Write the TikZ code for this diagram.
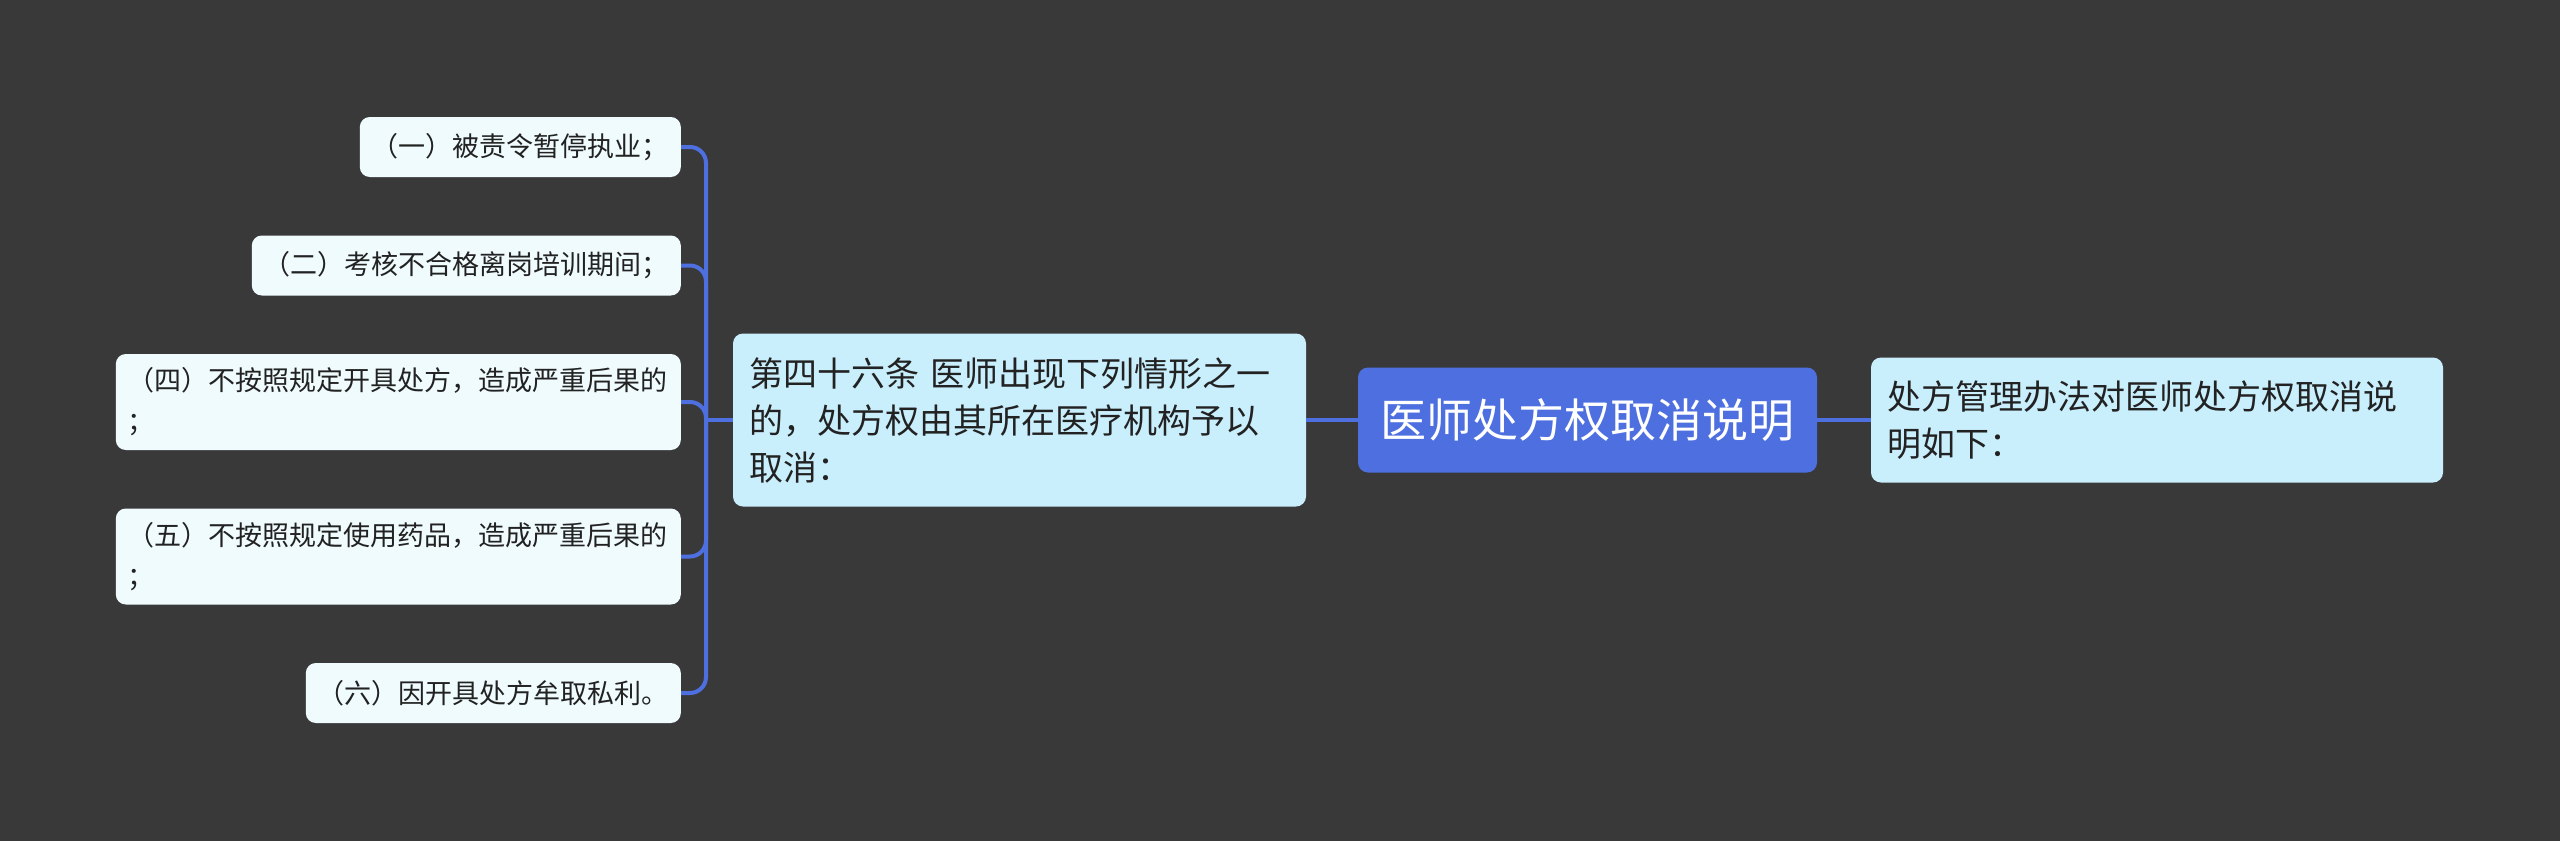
\documentclass[tikz,border=0pt]{standalone}
\usepackage{fontspec}
\newfontfamily\cjk{Noto Sans CJK SC}
\definecolor{bgc}{HTML}{3A393A}
\definecolor{rootc}{HTML}{4E6FE0}
\definecolor{linec}{HTML}{4E6FE0}
\definecolor{midc}{HTML}{C9EEFC}
\definecolor{leafc}{HTML}{EFFBFD}
\definecolor{txtc}{HTML}{222222}
\begin{document}
\begin{tikzpicture}[x=1pt,y=-1pt,
  leaf/.style={fill=leafc, rounded corners=10pt, inner xsep=12pt, inner ysep=0pt, minimum height=60pt,
    font=\cjk\fontsize{27}{41}\selectfont, text=txtc, anchor=east},
  leaftwo/.style={leaf, align=left, text width=541pt, minimum height=96pt},
  midbox/.style={fill=midc, rounded corners=10pt, inner xsep=16pt, inner ysep=0pt,
    font=\cjk\fontsize{34}{47}\selectfont, text=txtc, align=left},
  rootbox/.style={fill=rootc, rounded corners=10pt, inner sep=0pt, minimum width=459pt, minimum height=105pt,
    font=\cjk\fontsize{46}{55}\selectfont, text=white},
  conn/.style={draw=linec, line width=4pt},
  branch/.style={conn, rounded corners=16pt}
]
\fill[bgc] (0,0) rectangle (2560,841);
\useasboundingbox (0,0) rectangle (2560,841);

\node[rootbox] (root) at (1587.5,420) {医师处方权取消说明};
\node[midbox, text width=541pt, minimum height=173pt] (mid) at (1019.5,420)
  {第四十六条 医师出现下列情形之一\\的，处方权由其所在医疗机构予以\\取消：};
\node[midbox, text width=540pt, minimum height=125pt] (right) at (2157,420)
  {处方管理办法对医师处方权取消说\\明如下：};

\node[leaf] (l1) at (681,147) {（一）被责令暂停执业；};
\node[leaf] (l2) at (681,265.5) {（二）考核不合格离岗培训期间；};
\node[leaftwo] (l4) at (681,402) {（四）不按照规定开具处方，造成严重后果的\\；};
\node[leaftwo] (l5) at (681,556.5) {（五）不按照规定使用药品，造成严重后果的\\；};
\node[leaf] (l6) at (681,693) {（六）因开具处方牟取私利。};

\draw[conn] (root.west) -- (mid.east);
\draw[conn] (root.east) -- (right.west);
\coordinate (tr) at (706,420);
\draw[conn] (mid.west) -- (tr);
\foreach \n in {l1,l2,l4,l5,l6}{
  \draw[branch] (tr) |- (\n.east);
}
\end{tikzpicture}
\end{document}
